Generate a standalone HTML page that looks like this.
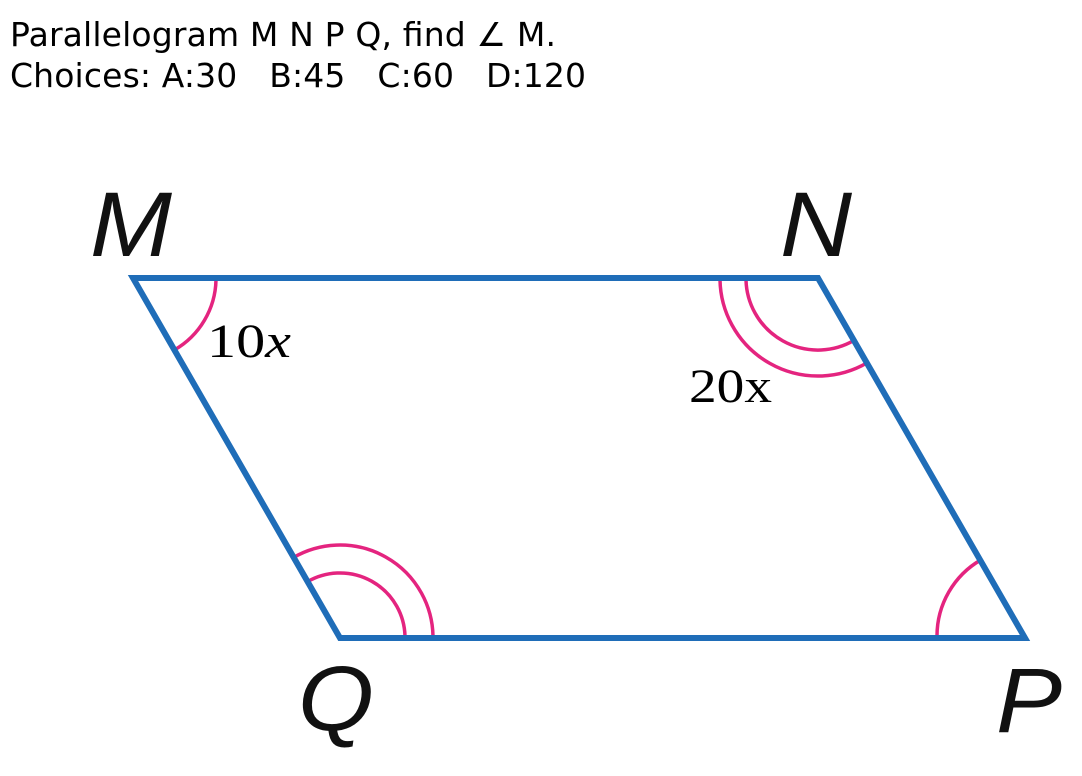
<!DOCTYPE html>
<html><head><meta charset="utf-8"><style>
body{margin:0;width:1082px;height:776px;background:#fff;overflow:hidden}
svg{display:block}
</style></head><body>
<svg width="1082" height="776" viewBox="0 0 1082 776">
<text x="10" y="46" font-family="'DejaVu Sans',sans-serif" font-size="33" textLength="546" fill="#000">Parallelogram M N P Q, find ∠ M.</text>
<text x="10" y="87" font-family="'DejaVu Sans',sans-serif" font-size="33" textLength="576" fill="#000">Choices: A:30 &#160; B:45 &#160; C:60 &#160; D:120</text>
<g fill="none" stroke="#e4247f" stroke-width="3.5">
<path d="M216,280 A83,83 0 0 1 174.5,349.9"/>
<path d="M746,280 A72,72 0 0 0 854,340.4"/>
<path d="M720,280 A98,98 0 0 0 867,362.9"/>
<path d="M405,636 A65,65 0 0 0 307.5,581.7"/>
<path d="M433,636 A93,93 0 0 0 293.5,557.5"/>
<path d="M937,636 A88,88 0 0 1 981,559.8"/>
</g>
<polygon points="133,278 818,278 1025,638 340,638" fill="none" stroke="#1f6db8" stroke-width="6" stroke-linejoin="miter"/>
<g font-family="'Liberation Sans',sans-serif" font-style="italic" font-size="92" fill="#111" lengthAdjust="spacingAndGlyphs">
<text x="90" y="256" textLength="82" lengthAdjust="spacingAndGlyphs">M</text>
<text x="780" y="256" textLength="72" lengthAdjust="spacingAndGlyphs">N</text>
<text x="298" y="730" textLength="76" lengthAdjust="spacingAndGlyphs">Q</text>
<text x="996" y="732" textLength="66" lengthAdjust="spacingAndGlyphs">P</text>
</g>
<text x="207" y="357" font-family="'Liberation Serif',serif" font-size="48" textLength="84" lengthAdjust="spacingAndGlyphs" fill="#000">10<tspan font-style="italic">x</tspan></text>
<text x="689" y="402" font-family="'Liberation Serif',serif" font-size="48" textLength="83" lengthAdjust="spacingAndGlyphs" fill="#000">20x</text>
</svg>
</body></html>
